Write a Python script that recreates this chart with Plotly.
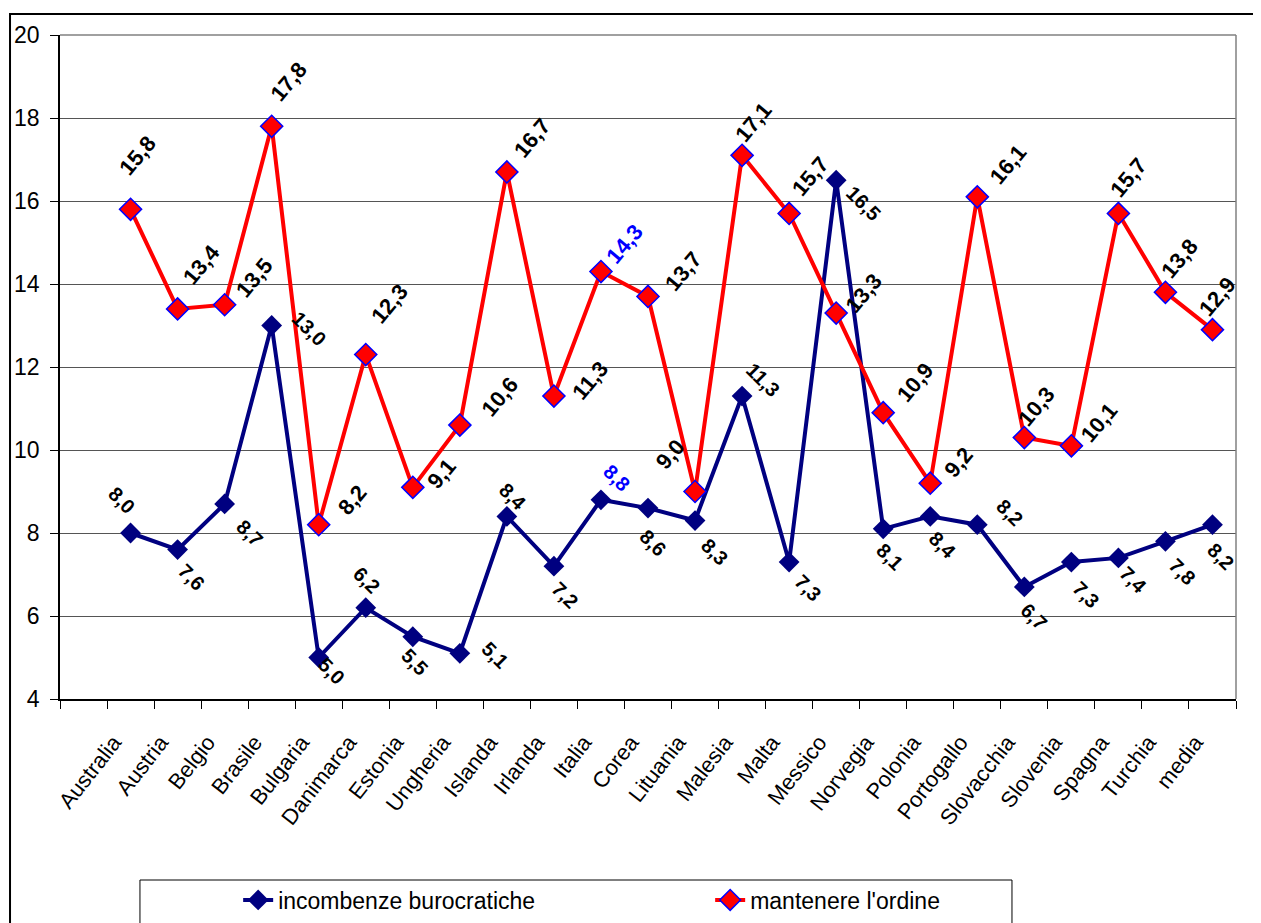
import plotly.graph_objects as go

categories = ["Australia", "Austria", "Belgio", "Brasile", "Bulgaria", "Danimarca", "Estonia",
              "Ungheria", "Islanda", "Irlanda", "Italia", "Corea", "Lituania", "Malesia", "Malta",
              "Messico", "Norvegia", "Polonia", "Portogallo", "Slovacchia", "Slovenia", "Spagna",
              "Turchia", "media"]
burocratiche = [8.0, 7.6, 8.7, 13.0, 5.0, 6.2, 5.5, 5.1, 8.4, 7.2, 8.8, 8.6, 8.3, 11.3, 7.3,
                16.5, 8.1, 8.4, 8.2, 6.7, 7.3, 7.4, 7.8, 8.2]
ordine = [15.8, 13.4, 13.5, 17.8, 8.2, 12.3, 9.1, 10.6, 16.7, 11.3, 14.3, 13.7, 9.0, 17.1, 15.7,
          13.3, 10.9, 9.2, 16.1, 10.3, 10.1, 15.7, 13.8, 12.9]
name_b = "incombenze burocratiche"
name_o = "mantenere l'ordine"
y_ticks = [4, 6, 8, 10, 12, 14, 16, 18, 20]

# label offsets in pixels (dx right, dy down) -- styling only
off_o = [(7, -54), (24, -44), (30, -27), (17, -45), (34, -25), (24, -51), (29, -14), (40, -29),
         (26, -34), (36, -16), (24, -28), (35, -25), (-25, -37), (11, -33), (21, -37), (27, -20),
         (32, -30), (28, -21), (31, -32), (12, -31), (28, -23), (10, -36), (14, -34), (5, -33)]
off_b = [(-9, -33), (14, 27), (25, 29), (38, 3), (13, 13), (1, -28), (2, 25), (35, 2),
         (6, -19), (11, 29), (16, -22), (5, 35), (20, 31), (21, -16), (19, 26), (27, 23),
         (7, 28), (12, 29), (33, -12), (10, 30), (15, 33), (15, 22), (17, 31), (9, 32)]
highlight = "Italia"

FONT = "Arial, 'Liberation Sans', sans-serif"
xs = list(range(1, len(categories) + 1))

fig = go.Figure()
fig.add_trace(go.Scatter(
    x=xs, y=burocratiche, name=name_b, mode="lines+markers",
    line=dict(color="#000080", width=4),
    marker=dict(symbol="diamond", size=16, color="#000080", line=dict(width=0)),
))
fig.add_trace(go.Scatter(
    x=xs, y=ordine, name=name_o, mode="lines+markers",
    line=dict(color="#FF0000", width=4),
    marker=dict(symbol="diamond", size=17, color="#FF0000", line=dict(color="#0000FF", width=1.5)),
))

def fmt(v):
    return f"{v:.1f}".replace(".", ",")

annotations = []
for i, c in enumerate(categories):
    col = "#0000FF" if c == highlight else "#000000"
    annotations.append(dict(
        x=xs[i], y=ordine[i], xref="x", yref="y", text=fmt(ordine[i]), showarrow=False,
        textangle=-50, xshift=off_o[i][0], yshift=-off_o[i][1],
        font=dict(family=FONT, size=22, color=col, weight="bold"),
        xanchor="center", yanchor="middle"))
    annotations.append(dict(
        x=xs[i], y=burocratiche[i], xref="x", yref="y", text=fmt(burocratiche[i]), showarrow=False,
        textangle=45, xshift=off_b[i][0], yshift=-off_b[i][1],
        font=dict(family=FONT, size=20, color=col, weight="bold"),
        xanchor="center", yanchor="middle"))

shapes = [
    # outer chart border
    dict(type="rect", xref="paper", yref="paper", x0=-0.0425, x1=1.03, y0=-0.45, y1=1.0316,
         line=dict(color="black", width=2), fillcolor="rgba(0,0,0,0)", layer="below"),
    # plot area right and top border (gray)
    dict(type="line", xref="paper", yref="paper", x0=1, x1=1, y0=0, y1=1,
         line=dict(color="#808080", width=1.5)),
    dict(type="line", xref="paper", yref="paper", x0=0, x1=1, y0=1, y1=1,
         line=dict(color="#808080", width=1.5)),
    # legend box
    dict(type="rect", xref="paper", yref="paper", x0=0.068, x1=0.8095, y0=-0.45, y1=-0.2726,
         line=dict(color="black", width=1), fillcolor="rgba(0,0,0,0)"),
]

fig.update_layout(
    width=1253, height=915,
    margin=dict(l=52, r=25, t=27, b=224, autoexpand=False),
    paper_bgcolor="white", plot_bgcolor="white",
    font=dict(family=FONT, color="black"),
    showlegend=True,
    legend=dict(orientation="h", x=0.1515, y=-0.3027, xanchor="left", yanchor="middle",
                font=dict(family=FONT, size=23), entrywidth=427, entrywidthmode="pixels",
                bgcolor="rgba(0,0,0,0)", borderwidth=0),
    annotations=annotations,
    shapes=shapes,
    xaxis=dict(
        range=[-0.5, 24.5], tickmode="array", tickvals=xs, ticktext=categories,
        tickangle=-52, ticks="", showgrid=False, zeroline=False, automargin=False,
        showline=True, linecolor="black", linewidth=1.5,
        tickfont=dict(family=FONT, size=22), ticklabelstandoff=20, ticklabelshift=-17,
        minor=dict(tickmode="array", tickvals=[i - 0.5 for i in range(26)], ticks="outside",
                   ticklen=8, tickcolor="black", tickwidth=1, showgrid=False),
    ),
    yaxis=dict(
        range=[4, 20], tickmode="array", tickvals=y_ticks, ticks="outside", ticklen=8,
        tickcolor="black", showgrid=True, gridcolor="#555555", gridwidth=1, zeroline=False,
        automargin=False, showline=True, linecolor="black", linewidth=1.5,
        tickfont=dict(family=FONT, size=23), ticklabelstandoff=6,
    ),
)

fig.write_html("out.html")
